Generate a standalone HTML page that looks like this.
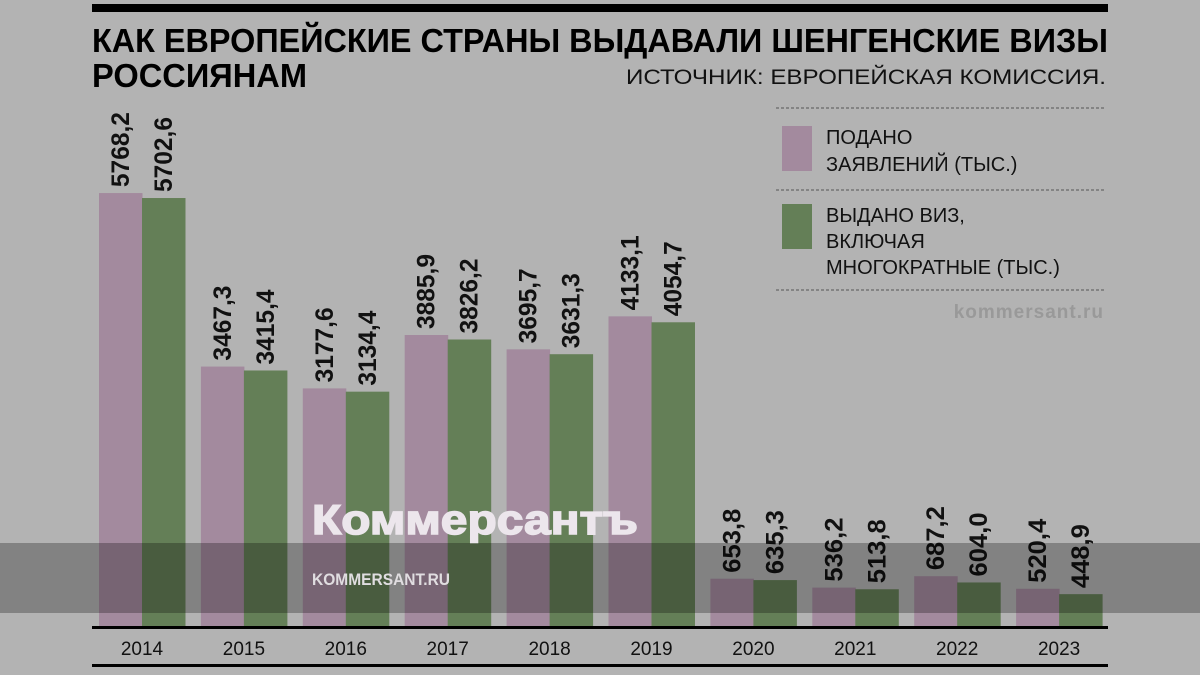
<!DOCTYPE html>
<html><head><meta charset="utf-8"><style>
html,body{margin:0;padding:0;background:#b3b3b3;}
svg{display:block;}
text{font-family:"Liberation Sans",sans-serif;}
</style></head><body>
<svg width="1200" height="675" viewBox="0 0 1200 675" xmlns="http://www.w3.org/2000/svg">
<rect width="1200" height="675" fill="#b3b3b3"/>
<rect x="92" y="4" width="1016" height="8" fill="#000"/>
<text x="92" y="52" font-size="33" font-weight="bold" textLength="1016" lengthAdjust="spacingAndGlyphs">КАК ЕВРОПЕЙСКИЕ СТРАНЫ ВЫДАВАЛИ ШЕНГЕНСКИЕ ВИЗЫ</text>
<text x="92" y="87" font-size="33" font-weight="bold" textLength="215" lengthAdjust="spacingAndGlyphs">РОССИЯНАМ</text>
<text x="1106" y="84" font-size="21" text-anchor="end" fill="#111" textLength="480" lengthAdjust="spacingAndGlyphs">ИСТОЧНИК: ЕВРОПЕЙСКАЯ КОМИССИЯ.</text>
<g stroke="#555" stroke-width="1" stroke-dasharray="3,2">
<line x1="776" y1="108" x2="1106" y2="108"/><line x1="776" y1="190" x2="1106" y2="190"/><line x1="776" y1="290" x2="1106" y2="290"/>
</g>
<rect x="782" y="126" width="30" height="45" fill="#a38a9e"/>
<rect x="782" y="204" width="30" height="45" fill="#647f57"/>
<g font-size="20" fill="#111">
<text x="826" y="144">ПОДАНО</text>
<text x="826" y="171">ЗАЯВЛЕНИЙ (ТЫС.)</text>
<text x="826" y="222">ВЫДАНО ВИЗ,</text>
<text x="826" y="248">ВКЛЮЧАЯ</text>
<text x="826" y="274">МНОГОКРАТНЫЕ (ТЫС.)</text>
</g>
<text x="1104" y="318" font-size="19" font-weight="bold" text-anchor="end" fill="#999" letter-spacing="1">kommersant.ru</text>
<g id="bars"></g>
<rect x="0" y="543" width="1200" height="70" fill="rgba(0,0,0,0.27)"/>
<text x="312" y="534" font-size="42" font-weight="bold" fill="#ece6ec" textLength="326" lengthAdjust="spacingAndGlyphs" stroke="#ece6ec" stroke-width="1.5">Коммерсантъ</text>
<text x="312" y="585" font-size="17" font-weight="bold" fill="#e0dde0" textLength="138" lengthAdjust="spacingAndGlyphs">KOMMERSANT.RU</text>
<rect x="92" y="626" width="1016" height="3" fill="#000"/>
<rect x="92" y="664" width="1016" height="3" fill="#000"/>
<g id="years" font-size="19" text-anchor="middle" fill="#111"></g>
</svg>
<script>
var d=[[2014,"5768,2","5702,6"],[2015,"3467,3","3415,4"],[2016,"3177,6","3134,4"],[2017,"3885,9","3826,2"],[2018,"3695,7","3631,3"],[2019,"4133,1","4054,7"],[2020,"653,8","635,3"],[2021,"536,2","513,8"],[2022,"687,2","604,0"],[2023,"520,4","448,9"]];
var ns="http://www.w3.org/2000/svg",g=document.getElementById("bars"),yg=document.getElementById("years");
var base=628,k=0.0754;
function el(n,a,p,t){var e=document.createElementNS(ns,n);for(var q in a)e.setAttribute(q,a[q]);if(t)e.textContent=t;p.appendChild(e);}
d.forEach(function(r,i){
 var x=99+i*101.9;
 [[r[1],"#a38a9e",x],[r[2],"#647f57",x+43]].forEach(function(b){
  var v=parseFloat(b[0].replace(",",".")),h=v*k,top=base-h;
  el("rect",{x:b[2],y:top,width:43.5,height:h,fill:b[1]},g);
  var len=b[0].length==6?75:64,tx=b[2]+30,ty=top-6;
  el("text",{x:0,y:0,"font-size":25,"font-weight":"bold",fill:"#111",textLength:len,lengthAdjust:"spacingAndGlyphs",transform:"translate("+tx+","+ty+") rotate(-90)"},g,b[0]);
 });
 el("text",{x:x+43,y:655},yg,String(r[0]));
});
</script>
</body></html>
